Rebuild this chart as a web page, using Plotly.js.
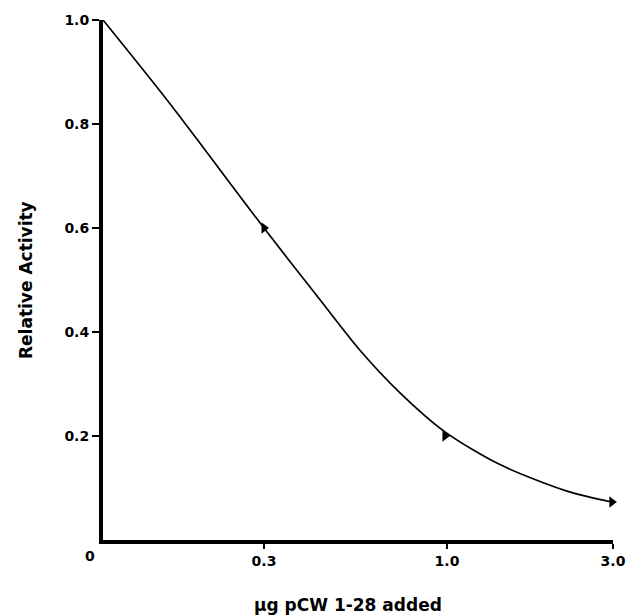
<!DOCTYPE html>
<html>
<head>
<meta charset="utf-8">
<script src="https://cdn.plot.ly/plotly-3.0.1.min.js"></script>
<style>html,body{margin:0;padding:0;background:#fff;}#chart{width:628px;height:616px;}</style>
</head>
<body>
<div id="chart"></div>
<script>
// Dose tick labels and their position along the (non-linear) drawn axis
var doseLabels = ['0.3', '1.0', '3.0'];
var dosePos = [1.0, 2.137, 3.168];
var yTickVals = [0.2, 0.4, 0.6, 0.8, 1.0];
var yTickText = ['0.2', '0.4', '0.6', '0.8', '1.0'];

// Smooth fitted curve (axis position, relative activity)
var curveX = [0, 0.398, 1.0, 1.348, 1.596, 1.845, 2.124, 2.466, 2.882, 3.161];
var curveY = [1.0, 0.846, 0.60, 0.462, 0.365, 0.283, 0.208, 0.145, 0.094, 0.073];

// Measured points
var pointX = [1.0, 2.124, 3.161];
var pointY = [0.60, 0.20, 0.073];

var font = 'DejaVu Sans, Verdana, sans-serif';

function bold(arr) { return arr.map(function (s) { return '<b>' + s + '</b>'; }); }

var traces = [
  {x: curveX, y: curveY, mode: 'lines', type: 'scatter',
   line: {color: '#000', width: 1.7, shape: 'spline', smoothing: 0.8},
   hoverinfo: 'skip', cliponaxis: false},
  {x: pointX, y: pointY, mode: 'markers', type: 'scatter',
   marker: {symbol: 'triangle-right', size: 10, color: '#000'},
   cliponaxis: false}
];

var layout = {
  width: 628, height: 616,
  margin: {l: 103, r: 15, t: 20, b: 76},
  paper_bgcolor: '#fff', plot_bgcolor: '#fff',
  showlegend: false,
  xaxis: {
    range: [0, 3.168], tickvals: dosePos, ticktext: bold(doseLabels),
    showline: true, linewidth: 4, linecolor: '#000', mirror: false,
    ticks: 'outside', ticklen: 5, tickwidth: 2, tickcolor: '#000',
    showgrid: false, zeroline: false, fixedrange: true,
    tickfont: {family: font, size: 14, color: '#000'}
  },
  yaxis: {
    range: [0, 1.0], tickvals: yTickVals, ticktext: bold(yTickText),
    showline: true, linewidth: 4, linecolor: '#000',
    ticks: 'outside', ticklen: 7, tickwidth: 2, tickcolor: '#000',
    showgrid: false, zeroline: false, fixedrange: true,
    tickfont: {family: font, size: 14, color: '#000'}
  },
  annotations: [
    {text: '<b>0</b>', xref: 'paper', yref: 'paper', x: 0, y: 0, xanchor: 'center', yanchor: 'top',
     xshift: -13, yshift: -6, showarrow: false, font: {family: font, size: 14, color: '#000'}},
    {text: '<b>Relative Activity</b>', xref: 'paper', yref: 'paper', x: 0, y: 0.5,
     xanchor: 'center', yanchor: 'middle', xshift: -77, textangle: -90, showarrow: false,
     font: {family: font, size: 17, color: '#000'}},
    {text: '<b>µg pCW 1-28 added</b>', xref: 'paper', yref: 'paper', x: 0.48, y: 0,
     xanchor: 'center', yanchor: 'middle', yshift: -65, showarrow: false,
     font: {family: font, size: 17, color: '#000'}}
  ]
};

Plotly.newPlot('chart', traces, layout, {displayModeBar: false, staticPlot: true});
</script>
</body>
</html>
